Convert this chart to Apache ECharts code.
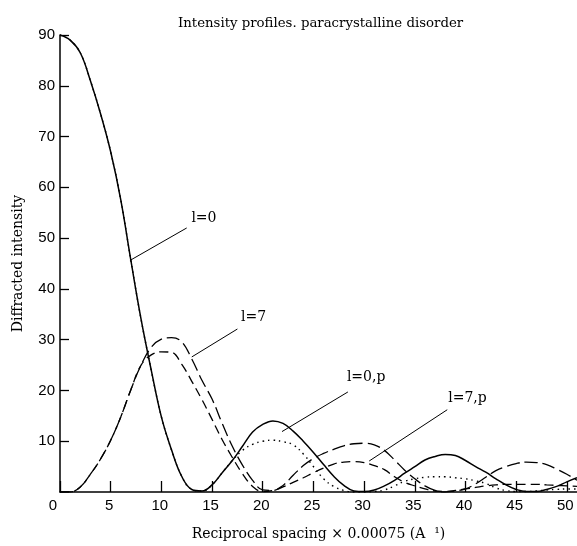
<!DOCTYPE html>
<html>
<head>
<meta charset="utf-8">
<script src="https://cdn.jsdelivr.net/npm/echarts@6/dist/echarts.min.js"></script>
<style>
html,body{margin:0;padding:0;background:#fff;}
#chart{width:577px;height:546px;}
</style>
</head>
<body>
<div id="chart"></div>
<script>
// Reciprocal spacing sample positions
const xs = [0,1,2,3,4,5,6,7,8,9,10,11,12,13,14,15,16,17,18,19,20,21,22,23,24,25,26,27,28,29,30,31,32,33,34,35,36,37,38,39,40,41,42,43,44,45,46,47,48,49,50,51];

// l=0 (solid)
const l0 = [90,89,86.5,81,74.5,67,57.5,45.5,34,24,14.8,8.3,3.1,0.5,0.2,1.4,3.8,6.2,9,11.8,13.3,14,13.5,12,10,7.8,5.4,3.1,1.3,0.2,0.1,0.4,1.2,2.3,3.7,5.0,6.3,7.0,7.4,7.2,6.2,5.0,3.9,2.6,1.4,0.5,0.1,0.1,0.5,1.1,2.0,2.8];

// l=7 (long dash)
const l7 = [0,0,1.0,3.5,6.5,10.2,14.8,20.2,25.0,28.5,30.1,30.4,29.6,26.2,22.0,18.3,13.5,9.0,5.3,2.3,0.4,0.3,1.3,3.3,5.2,6.6,7.6,8.4,9.1,9.5,9.6,9.3,8.2,6.3,4.3,2.6,1.2,0.3,0,0.2,0.6,1.6,2.9,4.2,5.0,5.6,5.9,5.8,5.4,4.5,3.5,2.3];

// l=0,p (dotted)
const l0p = [90,89,86.5,81,74.5,67,57.5,45.5,34,24,14.8,8.3,3.1,0.5,0.2,1.4,3.8,6.2,8.2,9.4,10.0,10.2,9.9,9.3,7.5,5.0,2.6,1.1,0.3,0,0,0.1,0.4,1.2,2.1,2.6,2.9,3.0,3.0,2.8,2.6,2.2,1.7,0.8,0.3,0.1,0.1,0.2,0.4,0.5,0.6,0.6];

// l=7,p (short dash)
const l7p = [0,0,1.0,3.5,6.5,10.2,14.8,20.2,25.0,27.0,27.6,27.5,25.2,21.8,18.2,14.3,10.3,6.8,3.6,1.1,0.1,0.3,1.0,1.9,2.8,3.8,4.7,5.5,5.9,6.0,5.8,5.2,4.4,3.0,1.9,1.2,0.6,0.2,0.1,0.3,0.6,0.9,1.2,1.4,1.5,1.5,1.5,1.5,1.4,1.3,1.2,1.1];

const xTicks = [0,5,10,15,20,25,30,35,40,45,50];

const titleText = 'Intensity profiles. paracrystalline disorder';
const xName = 'Reciprocal spacing × 0.00075 (A  ¹)';
const yName = 'Diffracted intensity';

// annotation: label, leader start, leader end, text position (data coords)
const notes = [
  {name:'l=0',   from:[6.9,45.6],  to:[12.5,52.0], at:[14.2,53.8]},
  {name:'l=7',   from:[13.0,26.6], to:[17.5,32.1], at:[19.1,34.4]},
  {name:'l=0,p', from:[21.9,11.9], to:[28.4,19.7], at:[30.2,22.5]},
  {name:'l=7,p', from:[30.5,6.1],  to:[38.2,16.2], at:[40.2,18.4]}
];

const serif = '"DejaVu Serif", "Liberation Serif", serif';
const sans = '"Liberation Sans", Arial, sans-serif';

function pairs(ys){ return xs.map((x,i)=>[x, ys[i]]); }

function noteMarks(n){
  return {
    markLine: {
      silent: true, symbol: ['none','none'],
      label: {show:false},
      lineStyle: {type:'solid', color:'#000', width:1},
      data: [[{coord:n.from},{coord:n.to}]]
    },
    markPoint: {
      silent: true, symbol: 'circle', symbolSize: 1,
      itemStyle: {color:'rgba(0,0,0,0)'},
      label: {show:true, position:'inside', color:'#000', fontFamily: serif, fontSize: 14, formatter: n.name},
      data: [{coord:n.at, value:n.name}]
    }
  };
}

const styles = {
  'l=0':   {type:'solid', width:1.5},
  'l=7':   {type:[13,5], width:1.3},
  'l=0,p': {type:[1.5,4], width:1.4},
  'l=7,p': {type:[9,5], width:1.3}
};
const seriesData = {'l=0': l0, 'l=7': l7, 'l=0,p': l0p, 'l=7,p': l7p};
const order = ['l=0,p','l=7,p','l=7','l=0'];

const series = order.map(name => {
  const n = notes.find(a=>a.name===name);
  return Object.assign({
    name, type:'line', data: pairs(seriesData[name]),
    smooth: 0.4, showSymbol:false, symbol:'none',
    lineStyle: Object.assign({color:'#000'}, styles[name]),
    animation:false, z: name==='l=0'?5:3
  }, noteMarks(n));
});

const chart = echarts.init(document.getElementById('chart'), null, {renderer:'canvas'});
chart.setOption({
  backgroundColor:'#fff',
  animation:false,
  title: {
    text: titleText, left: 173, top: 12,
    textStyle: {fontFamily: serif, fontSize: 13.3, fontWeight:'normal', color:'#000'}
  },
  grid: {left:60, right:0, top:35, bottom:50, containLabel:false},
  xAxis: {
    type:'value', min:0, max:51,
    name: xName, nameLocation:'middle', nameGap:35,
    nameTextStyle: {fontFamily: serif, fontSize: 14, color:'#000'},
    axisLine: {show:true, onZero:false, lineStyle:{color:'#000', width:1.5}},
    axisTick: {show:true, inside:true, length:11, customValues: xTicks, lineStyle:{color:'#000', width:1.3}},
    axisLabel: {customValues: xTicks, margin:6, alignMinLabel:'right', padding:[0,3,0,0], color:'#000', fontFamily: sans, fontSize:15},
    splitLine: {show:false}
  },
  yAxis: {
    type:'value', min:0, max:90, interval:10,
    name: yName, nameLocation:'middle', nameGap:35,
    nameTextStyle: {fontFamily: serif, fontSize: 14, color:'#000'},
    axisLine: {show:true, onZero:false, lineStyle:{color:'#000', width:1.5}},
    axisTick: {show:true, inside:true, length:9, lineStyle:{color:'#000', width:1.3}},
    axisLabel: {showMinLabel:false, margin:5, color:'#000', fontFamily: sans, fontSize:15},
    splitLine: {show:false}
  },
  series
});
</script>
</body>
</html>
